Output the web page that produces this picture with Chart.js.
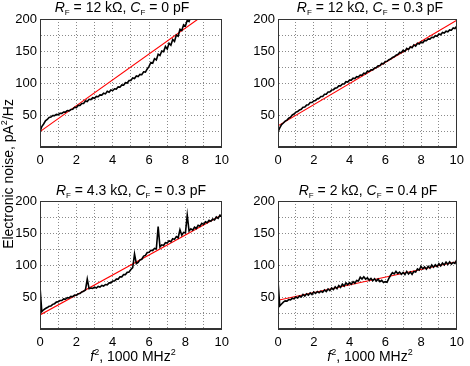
<!DOCTYPE html>
<html><head><meta charset="utf-8">
<script src="https://cdn.jsdelivr.net/npm/chart.js@4"></script>
<style>
body{margin:0;width:470px;height:366px;position:relative;background:#fff;overflow:hidden;font-family:"Liberation Sans",Arial,sans-serif;}
canvas{position:absolute;}
.t{position:absolute;font-size:14px;line-height:16px;white-space:nowrap;transform:translateX(-50%);color:#000}
.t sub{font-size:8px;vertical-align:baseline;position:relative;top:3px;line-height:0}
.t sup{font-size:9px;vertical-align:baseline;position:relative;top:-6px;line-height:0}
.yl{position:absolute;left:-92px;top:166px;width:200px;height:16px;font-size:14px;line-height:16px;text-align:center;white-space:nowrap;transform:rotate(-90deg);color:#000}
.yl sup{font-size:9px;vertical-align:baseline;position:relative;top:-6px;line-height:0}
</style></head><body>
<canvas id="c0" width="235" height="180" style="left:0;top:0"></canvas>
<canvas id="c1" width="235" height="180" style="left:235px;top:0"></canvas>
<canvas id="c2" width="235" height="186" style="left:0;top:180px"></canvas>
<canvas id="c3" width="235" height="186" style="left:235px;top:180px"></canvas>
<div class="t" style="left:122px;top:-1px"><i>R</i><sub>F</sub> = 12 kΩ, <i>C</i><sub>F</sub> = 0 pF</div>
<div class="t" style="left:370px;top:-1px"><i>R</i><sub>F</sub> = 12 kΩ, <i>C</i><sub>F</sub> = 0.3 pF</div>
<div class="t" style="left:131px;top:182px"><i>R</i><sub>F</sub> = 4.3 kΩ, <i>C</i><sub>F</sub> = 0.3 pF</div>
<div class="t" style="left:368px;top:182px"><i>R</i><sub>F</sub> = 2 kΩ, <i>C</i><sub>F</sub> = 0.4 pF</div>
<div class="t" style="left:133px;top:348px"><i>f</i><sup>2</sup>, 1000 MHz<sup>2</sup></div>
<div class="t" style="left:370px;top:348px"><i>f</i><sup>2</sup>, 1000 MHz<sup>2</sup></div>
<div class="yl">Electronic noise, pA<sup>2</sup>/Hz</div>
<script>
// shared sample positions (f^2, 1000 MHz^2)
const xs = [0,0.1,0.2,0.3,0.4,0.5,0.6,0.7,0.8,0.9,1,1.1,1.2,1.3,1.4,1.5,1.6,1.7,1.8,1.9,2,2.1,2.2,2.3,2.4,2.5,2.6,2.7,2.8,2.9,3,3.1,3.2,3.3,3.4,3.5,3.6,3.7,3.8,3.9,4,4.1,4.2,4.3,4.4,4.5,4.6,4.7,4.8,4.9,5,5.1,5.2,5.3,5.4,5.5,5.6,5.7,5.8,5.9,6,6.1,6.2,6.3,6.4,6.5,6.6,6.7,6.8,6.9,7,7.1,7.2,7.3,7.4,7.5,7.6,7.7,7.8,7.9,8,8.1,8.2,8.3,8.4,8.5,8.6,8.7,8.8,8.9,9,9.1,9.2,9.3,9.4,9.5,9.6,9.7,9.8,9.9,10];
const xTicks = [0,2,4,6,8,10];
const yTicks = [50,100,150,200];

// measured noise, pA^2/Hz
const noiseTL = [24,32,36,41,43,46,47,49,49,51,50.5,52.5,52.5,54.5,54.5,57,56.5,58.5,59,62,61.5,65,65,68,68,72,71,74.5,74,77,76,79,78.5,81.5,81,84,83,87,85.5,89,88,91,90.5,94,93.5,97,96.5,100.5,100,104,104,108,107,111,110,113.5,113,117.5,117,122,126,132,131,138,136,145,143,150,149,157,153,162,159,168,165,175,173,184,182,191,189,198,196,204];
const noiseTR = [23,30,35,37.5,40.5,42,45,46.5,50,51.5,54.5,55.5,58,59,62,62.5,65.5,66,69.5,69.5,72,72.5,75.5,76,79,79,82.5,82.5,86,86,89,89.5,92,92.5,95.5,95.5,98.5,98.5,102,101.5,104.5,104.5,107.5,107,110,109.5,112.5,112,115.5,114.5,118.5,118,120.5,120.5,123.5,124,127,127,130.5,130,133.5,134,136.5,137.5,140,141,143.5,144.5,147.5,147.5,151,149.5,154,152,156.5,155,159.5,157.5,162,161,164,163,166.5,166,169,168.5,171.5,171,174,173,176.5,175.5,179,178,181,180,183,182.5,186,185,189];
const noiseBL = [66,27,30,32,33.5,35.5,36,38.5,39.5,42,42.5,44.5,44.5,47,46.5,49,48.5,51,50.5,53,52.5,55,55.5,58,59,61,78,63,64,63.5,65.5,64,66.5,65.5,68,67,69.5,69,72,72,75,75,78,78,81.5,81.5,85,85,88.5,89,93,96,117,102,104,108,109,114,115,119.5,120,123,122.5,126,125,160,128,131.5,130.5,135,134.5,138,136.5,141,140,144.5,142.5,155,146.5,151,150,178,153,156.5,154.5,159,157,162,160.5,165,163.5,167.5,166,170,168.5,172,170.5,175,173,178,176];
const noiseBR = [75,36,39,42,44,43.5,46,45.5,48,47,50,48.5,51.5,50,54,51.5,55,53,56.5,54,58,55.5,58.5,56.5,59,57.5,61,58.5,62.5,60,64,61.5,66,63,68,65,70,67,72,69,72.5,70,74,71.5,76,75,81,78,81.5,78,80,76.5,79,75.5,78.5,75,78,74,76,72.5,74,73,79,84,88,86,90,86.5,89,85.5,88.5,85,90,86,89,85.5,90,89,94,92,98,94,97,93.5,98,95,100,96.5,100.5,97.5,102,98.5,103,100,104.5,101,105,101.5,104,102.5,108];

// linear fits (end points)
const fitXTL = [0, 8.7], fitYTL = [24, 200];
const fitXTR = [0, 10], fitYTR = [33, 198];
const fitXBL = [0, 10], fitYBL = [22, 178];
const fitXBR = [0, 10], fitYBR = [45, 105];

const tickFont = {family: '"Liberation Sans", Arial, sans-serif', size: 13};
const frame = {
  id: 'frame',
  afterDraw(chart) {
    const {ctx, chartArea: a} = chart;
    ctx.save();
    ctx.strokeStyle = '#333';
    ctx.lineWidth = 1;
    const l = Math.round(a.left) + 0.5, t = Math.round(a.top) + 0.5;
    const r = Math.round(a.right) - 0.5, b = Math.round(a.bottom) - 0.5;
    ctx.strokeRect(l, t, r - l, b - t);
    ctx.restore();
  }
};

function makeChart(id, yw, padR, padT, xh, noise, fx, fy) {
  const pts = noise.map((y, i) => ({x: xs[i], y}));
  const fit = fx.map((x, i) => ({x, y: fy[i]}));
  return new Chart(document.getElementById(id), {
    type: 'line',
    data: {datasets: [
      {data: pts, borderColor: '#000', borderWidth: 1.6, pointRadius: 0, tension: 0},
      {data: fit, borderColor: '#ff0000', borderWidth: 1.1, pointRadius: 0, tension: 0}
    ]},
    options: {
      responsive: false, animation: false, events: [],
      layout: {padding: {left: 0, right: padR, top: padT, bottom: 0}},
      plugins: {legend: {display: false}, tooltip: {enabled: false}, title: {display: false}},
      scales: {
        x: {
          type: 'linear', min: 0, max: 10,
          afterFit: s => { s.height = xh; },
          ticks: {stepSize: 1, autoSkip: false, maxRotation: 0, padding: 6, color: '#000', font: tickFont,
                  callback: v => xTicks.includes(v) ? String(v) : ''},
          grid: {color: '#8a8a8a', lineWidth: 1, drawTicks: false},
          border: {display: true, color: '#333', width: 1, dash: [1, 2]}
        },
        y: {
          type: 'linear', min: 0, max: 200,
          afterFit: s => { s.width = yw; },
          ticks: {stepSize: 25, autoSkip: false, padding: 3, color: '#000', font: tickFont,
                  callback: v => yTicks.includes(v) ? String(v) : ''},
          grid: {color: '#8a8a8a', lineWidth: 1, drawTicks: false},
          border: {display: true, color: '#333', width: 1, dash: [1, 2]}
        }
      }
    },
    plugins: [frame]
  });
}

makeChart('c0', 40, 9, 19, 33, noiseTL, fitXTL, fitYTL);
makeChart('c1', 43, 7, 19, 33, noiseTR, fitXTR, fitYTR);
makeChart('c2', 40, 9, 21, 37, noiseBL, fitXBL, fitYBL);
makeChart('c3', 43, 7, 21, 37, noiseBR, fitXBR, fitYBR);
</script>
</body></html>
